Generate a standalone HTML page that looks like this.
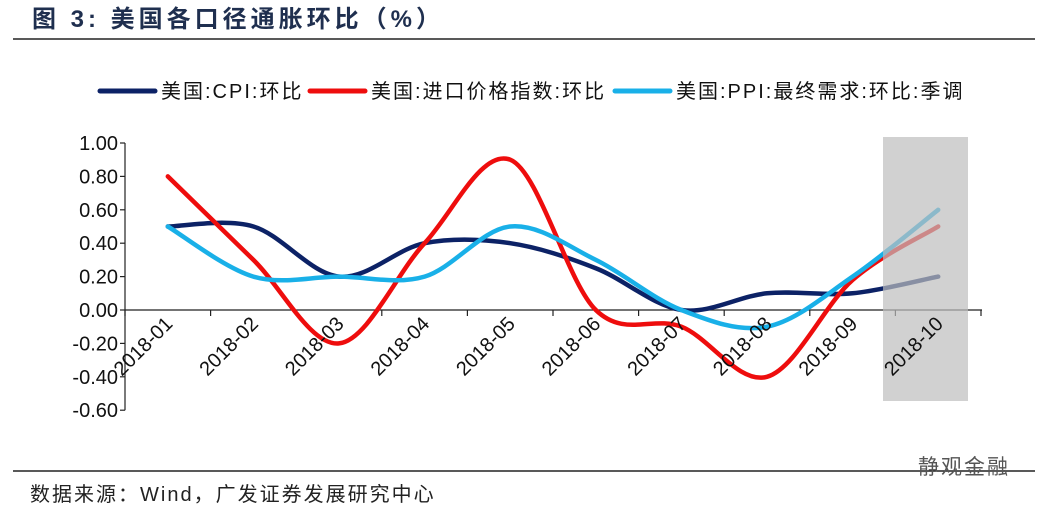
<!DOCTYPE html>
<html><head><meta charset="utf-8"><style>
body{margin:0;background:#fff;width:1055px;height:513px;overflow:hidden;font-family:"Liberation Sans","Noto Sans CJK SC",sans-serif;}
</style></head><body>
<svg width="1055" height="513" viewBox="0 0 1055 513" xmlns="http://www.w3.org/2000/svg">
<text x="32" y="27" font-size="24" font-weight="bold" fill="#1f2f4f" letter-spacing="4" font-family="Liberation Sans,Noto Sans CJK SC,sans-serif">图 3:  美国各口径通胀环比（%）</text>
<line x1="13" y1="39" x2="1035" y2="39" stroke="#222" stroke-width="1.5"/>
<g id="legend"></g>
<g id="axes"></g>
<g id="series"></g>
<rect x="883" y="137" width="85" height="264" fill="#bdbdbd" opacity="0.7"/>
<g id="xlabels"></g>
<line x1="13" y1="471" x2="1035" y2="471" stroke="#222" stroke-width="1.5"/>
<text x="30" y="501" font-size="20" fill="#222" letter-spacing="2">数据来源：Wind，广发证券发展研究中心</text>
<text x="918" y="474" font-size="21" fill="#555" letter-spacing="2">静观金融</text>
</svg>
<script>
const categories=["2018-01","2018-02","2018-03","2018-04","2018-05","2018-06","2018-07","2018-08","2018-09","2018-10"];
const cpi=[0.5,0.5,0.2,0.4,0.4,0.25,0.0,0.1,0.1,0.2];
const importPrice=[0.8,0.3,-0.2,0.4,0.9,0.0,-0.1,-0.4,0.18,0.5];
const ppi=[0.5,0.2,0.2,0.2,0.5,0.3,0.0,-0.1,0.2,0.6];
const yTicks=[1.0,0.8,0.6,0.4,0.2,0.0,-0.2,-0.4,-0.6];
const seriesNames=["美国:CPI:环比","美国:进口价格指数:环比","美国:PPI:最终需求:环比:季调"];
const colors=["#0c2266","#ee0d0d","#19b0e8"];
const NS="http://www.w3.org/2000/svg";
const x0=125,step=85.6,yZero=310,perUnit=167;
const xs=i=>x0+step*(i+0.5);
const ys=v=>yZero-v*perUnit;
function mk(tag,attrs,parent){const e=document.createElementNS(NS,tag);for(const k in attrs)e.setAttribute(k,attrs[k]);parent.appendChild(e);return e;}
const axes=document.getElementById('axes');
const yl=mk('line',{x1:x0,y1:ys(1),x2:x0,y2:ys(-0.6),stroke:'#222','stroke-width':1.2},axes);


yTicks.forEach(v=>{
  const t=mk('text',{x:x0-7,y:ys(v)+7,'text-anchor':'end','font-size':20,fill:'#111'},axes);
  t.textContent=v.toFixed(2);
  
  
  mk('line',{x1:x0-5,y1:ys(v),x2:x0,y2:ys(v),stroke:'#222','stroke-width':1.2},axes);
});
const xl=mk('line',{x1:x0,y1:yZero,x2:x0+step*10+1,y2:yZero,stroke:'#222','stroke-width':1.2},axes);


for(let k=0;k<=categories.length;k++){mk('line',{x1:x0+step*k,y1:yZero,x2:x0+step*k,y2:yZero+6,stroke:'#222','stroke-width':1.2},axes);}
const xlab=document.getElementById('xlabels');
categories.forEach((c,i)=>{
  const px=xs(i)+6,py=yZero+15;
  const t=mk('text',{x:px,y:py,'text-anchor':'end','font-size':20,fill:'#111',transform:`rotate(-45 ${px} ${py})`},xlab);
  t.textContent=c;
  
  
});
function smooth(vals){
  const p=vals.map((v,i)=>[xs(i),ys(v)]);
  let d=`M${p[0][0]},${p[0][1]}`;
  for(let i=0;i<p.length-1;i++){
    const a=p[Math.max(0,i-1)],b=p[i],c=p[i+1],e=p[Math.min(p.length-1,i+2)];
    const t=1/6;
    d+=` C${b[0]+(c[0]-a[0])*t},${b[1]+(c[1]-a[1])*t} ${c[0]-(e[0]-b[0])*t},${c[1]-(e[1]-b[1])*t} ${c[0]},${c[1]}`;
  }
  return d;
}
const sg=document.getElementById('series');
[cpi,importPrice,ppi].forEach((s,k)=>{
  const p=mk('path',{d:smooth(s),fill:'none',stroke:colors[k],'stroke-width':4.5,'stroke-linecap':'round'},sg);
  
  
});
const lg=document.getElementById('legend');
const lx=[100,310,615];
seriesNames.forEach((n,k)=>{
  const g=mk('g',{},lg);
  
  
  mk('line',{x1:lx[k],y1:91,x2:lx[k]+55,y2:91,stroke:colors[k],'stroke-width':5,'stroke-linecap':'round'},g);
  const t=mk('text',{x:lx[k]+61,y:98,'font-size':20,fill:'#111','letter-spacing':2},g);
  t.textContent=n;
});
</script>
</body></html>
